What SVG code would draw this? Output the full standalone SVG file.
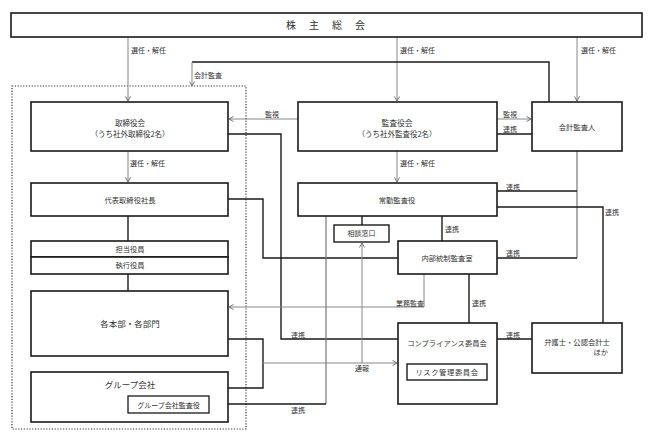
<svg xmlns="http://www.w3.org/2000/svg" width="652" height="441" viewBox="0 0 652 441">
<defs>
<marker id="ah" markerWidth="6" markerHeight="6" refX="5" refY="3" orient="auto" markerUnits="userSpaceOnUse">
<path d="M0.5,0.5 L5,3 L0.5,5.5" fill="none" stroke="#666" stroke-width="0.9"/>
</marker>
</defs>
<style>
text{font-family:"Noto Sans CJK JP","Noto Sans",sans-serif;fill:#333;}
.box{fill:#fff;stroke:#1a1a1a;stroke-width:1.6;}
.t{font-size:7.3px;text-anchor:middle;}
.lb{font-size:7px;}
.m{text-anchor:middle;}
.e{text-anchor:end;}
.g{fill:none;stroke:#888;stroke-width:1;}
.k{fill:none;stroke:#1a1a1a;stroke-width:1.4;}
.dg{fill:none;stroke:#777;stroke-width:1.2;}
</style>
<rect x="0" y="0" width="652" height="441" fill="#fff"/>
<rect x="12" y="86" width="234" height="343" fill="none" stroke="#333" stroke-width="1.2" stroke-dasharray="1.2 1.6"/>
<g id="connectors">
<path class="g" d="M128,37 V101" marker-end="url(#ah)"/>
<path class="g" d="M397,37 V101" marker-end="url(#ah)"/>
<path class="g" d="M577,37 V101" marker-end="url(#ah)"/>
<path class="k" d="M549,102 V62 H192"/>
<path class="g" d="M192,62 V86" marker-end="url(#ah)"/>
<path class="g" d="M298,119 H229" marker-end="url(#ah)"/>
<path class="g" d="M128,151 V182" marker-end="url(#ah)"/>
<path class="g" d="M497,119 H531" marker-end="url(#ah)"/>
<path class="g" d="M397,151 V182" marker-end="url(#ah)"/>
<path class="k" d="M497,134 H532"/>
<path class="k" d="M228,134 H281 V339 H398"/>
<path class="k" d="M228,199 H263 V258 H398"/>
<path class="k" d="M228,339 H263 V388 H228"/>
<path class="k" d="M128,216 V241"/>
<path class="k" d="M128,274 V291"/>
<path class="dg" d="M577,151 V258"/>
<path class="k" d="M497,191 H577"/>
<path class="k" d="M497,207 H603 V323"/>
<path class="k" d="M362,216 V225"/>
<path class="k" d="M442,216 V241"/>
<path class="k" d="M497,258 H577"/>
<path class="k" d="M469,274 V323"/>
<path class="k" d="M497,339 H532"/>
<path class="g" d="M424,274 V307 H229" marker-end="url(#ah)"/>
<path class="g" d="M263,363 H397" marker-end="url(#ah)"/>
<path class="g" d="M362,363 V243" marker-end="url(#ah)"/>
<path class="dg" d="M326,216 V404"/>
<path class="k" d="M209,404 H326"/>
<text class="lb" x="131" y="52.5">選任・解任</text>
<text class="lb" x="400" y="52.5">選任・解任</text>
<text class="lb" x="581" y="52.5">選任・解任</text>
<text class="lb" x="194" y="77.5">会計監査</text>
<text class="lb m" x="272" y="117">監視</text>
<text class="lb m" x="510" y="117">監視</text>
<text class="lb m" x="510" y="132">連携</text>
<text class="lb" x="130" y="165.5">選任・解任</text>
<text class="lb" x="400" y="165.5">選任・解任</text>
<text class="lb m" x="513" y="190">連携</text>
<text class="lb m" x="612" y="215">連携</text>
<text class="lb" x="445" y="231.5">連携</text>
<text class="lb m" x="513" y="256">連携</text>
<text class="lb e" x="424" y="305.5">業務監査</text>
<text class="lb" x="472" y="305.5">連携</text>
<text class="lb m" x="298" y="338">連携</text>
<text class="lb m" x="513" y="338">連携</text>
<text class="lb m" x="362" y="370.5">通報</text>
<text class="lb m" x="298" y="412.5">連携</text>
</g>
<g id="n-shareholders">
<rect class="box" x="11" y="13" width="631" height="24"/>
<text x="332" y="29" style="font-size:10px;text-anchor:middle;letter-spacing:13px">株主総会</text>
</g>
<g id="n-board">
<rect class="box" x="31" y="102" width="197" height="49"/>
<text class="t" x="130" y="126" style="font-size:7.5px">取締役会</text>
<text class="t" x="130" y="136.5" style="font-size:7.5px">（うち社外取締役2名）</text>
</g>
<g id="n-president">
<rect class="box" x="31" y="183" width="197" height="33"/>
<text class="t" x="130" y="202.5">代表取締役社長</text>
</g>
<g id="n-officer">
<rect class="box" x="31" y="241" width="197" height="16"/>
<text class="t" x="130" y="251.7">担当役員</text>
</g>
<g id="n-exec">
<rect class="box" x="31" y="257" width="197" height="17"/>
<text class="t" x="130" y="268">執行役員</text>
</g>
<g id="n-divisions">
<rect class="box" x="31" y="291" width="197" height="65"/>
<text class="t" x="130" y="327" style="font-size:8.5px">各本部・各部門</text>
</g>
<g id="n-group">
<rect class="box" x="31" y="372" width="197" height="50"/>
<text class="t" x="130" y="387.5" style="font-size:8.5px">グループ会社</text>
<rect class="box" x="128" y="396" width="81" height="17" style="stroke-width:1.3"/>
<text class="t" x="168.5" y="407.5" style="font-size:7px">グループ会社監査役</text>
</g>
<g id="n-auditboard">
<rect class="box" x="298" y="102" width="199" height="49"/>
<text class="t" x="397" y="126" style="font-size:7.8px">監査役会</text>
<text class="t" x="397" y="136.5" style="font-size:7.5px">（うち社外監査役2名）</text>
</g>
<g id="n-accountant">
<rect class="box" x="532" y="102" width="90" height="49"/>
<text class="t" x="577" y="129.5">会計監査人</text>
</g>
<g id="n-fulltime">
<rect class="box" x="298" y="183" width="199" height="33"/>
<text class="t" x="397" y="202.5">常勤監査役</text>
</g>
<g id="n-consult">
<rect class="box" x="334" y="225" width="55" height="17" style="stroke-width:1.4"/>
<text class="t" x="361.5" y="236.3" style="font-size:7px">相談窓口</text>
</g>
<g id="n-internal">
<rect class="box" x="398" y="241" width="99" height="33"/>
<text class="t" x="447" y="260.5">内部統制監査室</text>
</g>
<g id="n-compliance">
<rect class="box" x="398" y="323" width="99" height="81"/>
<text class="t" x="447" y="345.5">コンプライアンス委員会</text>
<rect class="box" x="407" y="364" width="80" height="16" style="stroke-width:1.4"/>
<text class="t" x="447" y="374.7" style="letter-spacing:0.6px">リスク管理委員会</text>
</g>
<g id="n-lawyers">
<rect class="box" x="532" y="323" width="90" height="50"/>
<text class="t" x="577" y="345" style="font-size:7.3px">弁護士・公認会計士</text>
<text x="608" y="355" style="font-size:7.3px;text-anchor:end">ほか</text>
</g>
</svg>
